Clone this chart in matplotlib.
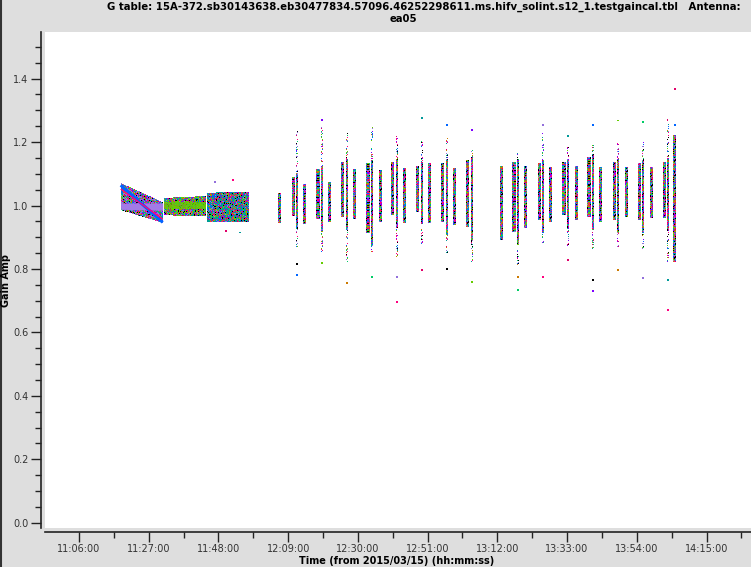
import numpy as np
import pandas as pd
import matplotlib
matplotlib.use("Agg")
import matplotlib.pyplot as plt
import matplotlib.dates as mdates
from matplotlib.colors import ListedColormap
from matplotlib.lines import Line2D

day = "2015-03-15 "

# plotms colorize palette
palette = ["#9370db", "#66cc00", "#0066ff", "#ff007f", "#cc7a00",
           "#000000", "#009999", "#00cc66", "#7f00ff", "#e0006a"]

# first (continuous) group: start/end time, low/high edges at start and end
block_start = ["11:18:34", "11:31:36", "11:44:33"]
block_end = ["11:31:13", "11:44:15", "11:57:07"]
block_lo0 = [0.985, 0.970, 0.947]
block_lo1 = [0.945, 0.968, 0.947]
block_hi0 = [1.070, 1.024, 1.040]
block_hi1 = [1.010, 1.030, 1.042]
block_main = ["#9370db", "#66cc00", "#009999"]

# single-column scans
single_times = ["12:06:32", "12:13:59", "12:21:36", "12:29:06", "12:36:40", "12:44:06",
                "12:51:42", "12:59:12", "13:13:18", "13:20:30", "13:28:06", "13:35:42",
                "13:43:12", "13:50:48", "13:58:18", "14:05:24"]
single_lo = [0.945, 0.941, 0.947, 0.957, 0.947, 0.944, 0.944, 0.938, 0.890, 0.928,
             0.947, 0.953, 0.947, 0.963, 0.960, 0.821]
single_hi = [1.040, 1.067, 1.073, 1.114, 1.111, 1.117, 1.133, 1.117, 1.126, 1.126,
             1.120, 1.126, 1.120, 1.120, 1.120, 1.221]

# double scans: a dense left column and a taller right column
pair_left = ["12:10:33", "12:17:59", "12:25:24", "12:33:03", "12:40:30", "12:48:00",
             "12:55:30", "13:03:06", "13:17:00", "13:24:36", "13:32:06", "13:39:36",
             "13:47:12", "13:54:48", "14:02:18"]
pair_right = ["12:11:45", "12:19:06", "12:26:36", "12:34:15", "12:41:42", "12:49:12",
              "12:56:42", "13:04:24", "13:18:12", "13:25:42", "13:33:12", "13:40:42",
              "13:48:12", "13:55:48", "14:03:24"]
core_lo = [0.966, 0.957, 0.963, 0.913, 0.969, 0.979, 0.947, 0.931, 0.915, 0.953,
           0.969, 0.963, 0.953, 0.953, 0.960]
core_hi = [1.089, 1.114, 1.136, 1.133, 1.136, 1.126, 1.133, 1.143, 1.136, 1.133,
           1.136, 1.152, 1.136, 1.133, 1.136]
tail_lo = [0.868, 0.850, 0.818, 0.853, 0.834, 0.868, 0.850, 0.818, 0.802, 0.881,
           0.868, 0.853, 0.868, 0.859, 0.812]
tail_hi = [1.237, 1.247, 1.237, 1.247, 1.221, 1.205, 1.215, 1.175, 1.165, 1.228,
           1.184, 1.190, 1.196, 1.199, 1.275]

# isolated outlying points
out_times = ["11:47:00", "11:52:30", "11:54:30", "11:50:10",
             "12:11:45", "12:11:45", "12:19:06", "12:19:06", "12:26:36", "12:34:15",
             "12:41:42", "12:41:42", "12:49:12", "12:49:12", "12:56:42", "12:56:42",
             "13:04:24", "13:04:24", "13:18:12", "13:18:12", "13:25:42", "13:25:42",
             "13:33:12", "13:33:12", "13:40:42", "13:40:42", "13:40:42", "13:48:12",
             "13:48:12", "13:55:48", "13:55:48", "14:03:24", "14:03:24", "14:05:24",
             "14:05:24"]
out_vals = [1.075, 1.080, 0.915, 0.920,
            0.780, 0.815, 1.270, 0.820, 0.755, 0.774,
            0.774, 0.695, 1.275, 0.796, 1.253, 0.800,
            1.237, 0.758, 0.774, 0.733, 1.253, 0.774,
            1.218, 0.828, 1.253, 0.765, 0.730, 1.268,
            0.796, 1.262, 0.771, 0.670, 0.765, 1.366,
            1.253]

x_ticks = ["11:06:00", "11:27:00", "11:48:00", "12:09:00", "12:30:00", "12:51:00",
           "13:12:00", "13:33:00", "13:54:00", "14:15:00"]


def tnum(s):
    return mdates.date2num(pd.to_datetime(day + s))


W, H = 751, 567
fig = plt.figure(figsize=(W / 100, H / 100), dpi=100, facecolor="#dedede")
ax = fig.add_axes([45 / W, 1 - 527.5 / H, 1 - 45 / W, (527.5 - 32) / H])
ax.set_facecolor("white")

x0, x1 = tnum("10:55:46"), tnum("14:28:24")
y0, y1 = -0.015, 1.547
ax.set_xlim(x0, x1)
ax.set_ylim(y0, y1)
px_x = (x1 - x0) / 706.0
px_y = (y1 - y0) / 495.5
minute = 1 / 1440.0


def mosaic(t0, t1, lo0, lo1, hi0, hi1, colours, seed=0, dense=None):
    nx = max(1, int(round((t1 - t0) / px_x)))
    ymin, ymax = min(lo0, lo1), max(hi0, hi1)
    ny = max(1, int(round((ymax - ymin) / px_y)))
    xe = np.linspace(t0, t1, nx + 1)
    ye = np.linspace(ymin, ymax, ny + 1)
    xc = 0.5 * (xe[1:] + xe[:-1])
    yc = 0.5 * (ye[1:] + ye[:-1])
    frac = (xc - t0) / (t1 - t0)
    lo = lo0 + (lo1 - lo0) * frac
    hi = hi0 + (hi1 - hi0) * frac
    I, J = np.meshgrid(np.arange(nx), np.arange(ny))
    h = ((I + 1) * 7919 * (J + 3) + J * J * 31 + I * I * 17 + seed * 101) % 97
    idx = h % len(colours)
    mask = (yc[:, None] < lo[None, :]) | (yc[:, None] > hi[None, :])
    if dense is not None:
        outside = (yc[:, None] < dense[0]) | (yc[:, None] > dense[1])
        mask |= outside & (h % 3 != 0)
    cm = ListedColormap(colours)
    ax.pcolormesh(xe, ye, np.ma.array(idx, mask=mask), cmap=cm,
                  vmin=-0.5, vmax=len(colours) - 0.5, shading="flat",
                  antialiased=False, edgecolors="none", zorder=2)


# continuous first group
for k in range(len(block_start)):
    cols = [block_main[k]] * 3 + palette
    mosaic(tnum(block_start[k]), tnum(block_end[k]), block_lo0[k], block_lo1[k],
           block_hi0[k], block_hi1[k], cols, seed=k)
ta, tb = tnum(block_start[0]), tnum(block_end[0])
ax.fill_between([ta, tb], [0.988, 0.985], [1.008, 1.008], color="#a27be6", lw=0, zorder=3)
ax.plot([ta, tb], [1.064, 0.947], color="#0066ff", lw=2.2, zorder=3, solid_capstyle="butt")
ax.plot([ta, tb], [1.052, 0.957], color="#ff007f", lw=1.0, zorder=3, solid_capstyle="butt")
tc, td = tnum(block_start[1]), tnum(block_end[1])
ax.fill_between([tc, td], [0.988, 0.988], [1.010, 1.010], color="#66cc00", lw=0, zorder=3, alpha=0.8)

# single scans
for k, t in enumerate(single_times):
    c = tnum(t)
    mosaic(c - 0.45 * minute, c + 0.45 * minute, single_lo[k], single_lo[k],
           single_hi[k], single_hi[k], palette, seed=k + 3)

# paired scans
for k in range(len(pair_left)):
    c = tnum(pair_left[k])
    mosaic(c - 0.5 * minute, c + 0.5 * minute, core_lo[k], core_lo[k],
           core_hi[k], core_hi[k], palette, seed=k + 1)
    c = tnum(pair_right[k])
    mosaic(c - 0.3 * minute, c + 0.3 * minute, tail_lo[k], tail_lo[k],
           tail_hi[k], tail_hi[k], palette, seed=k + 5,
           dense=(core_lo[k] - 0.04, core_hi[k] + 0.01))

ax.scatter([tnum(t) for t in out_times], out_vals, s=2, marker="s", linewidths=0,
           c=[palette[(i * 3) % len(palette)] for i in range(len(out_vals))], zorder=4)

# axes styling
for s in ["top", "right"]:
    ax.spines[s].set_visible(False)
ax.spines["left"].set_position(("outward", 3))
ax.spines["bottom"].set_position(("outward", 3))
for s in ["left", "bottom"]:
    ax.spines[s].set_linewidth(1.2)
    ax.spines[s].set_color("#222222")

ax.set_yticks(np.arange(0, 1.41, 0.2))
ax.set_yticks(np.arange(0, 1.55, 0.05), minor=True)
ax.set_yticklabels([f"{v:.1f}" for v in np.arange(0, 1.41, 0.2)])
tick_nums = [tnum(t) for t in x_ticks]
ax.set_xticks(tick_nums)
ax.set_xticklabels(x_ticks)
ax.set_xticks([tnum("11:16:30") + i * 21 * minute for i in range(10)], minor=True)
ax.tick_params(which="major", direction="out", length=7, width=1, color="#222222",
               labelsize=7, labelcolor="#333333", pad=2)
ax.tick_params(which="minor", direction="out", length=4, width=1, color="#222222")

fig.text(6 / W, 1 - 281 / H, "Gain Amp", rotation=90, fontsize=7, fontweight="bold",
         ha="center", va="center")
fig.text(397 / W, 1 - 561 / H, "Time (from 2015/03/15) (hh:mm:ss)", fontsize=7,
         fontweight="bold", ha="center", va="center")
fig.text(424 / W, 1 - 7 / H,
         "G table: 15A-372.sb30143638.eb30477834.57096.46252298611.ms.hifv_solint.s12_1.testgaincal.tbl   Antenna:",
         fontsize=7.3, fontweight="bold", ha="center", va="center")
fig.text(403 / W, 1 - 19 / H, "ea05", fontsize=7.3, fontweight="bold", ha="center", va="center")

fig.add_artist(Line2D([0.5 / W, 0.5 / W], [0, 1], color="#333333", lw=1.5))

fig.savefig("out.png", dpi=100, facecolor=fig.get_facecolor())
